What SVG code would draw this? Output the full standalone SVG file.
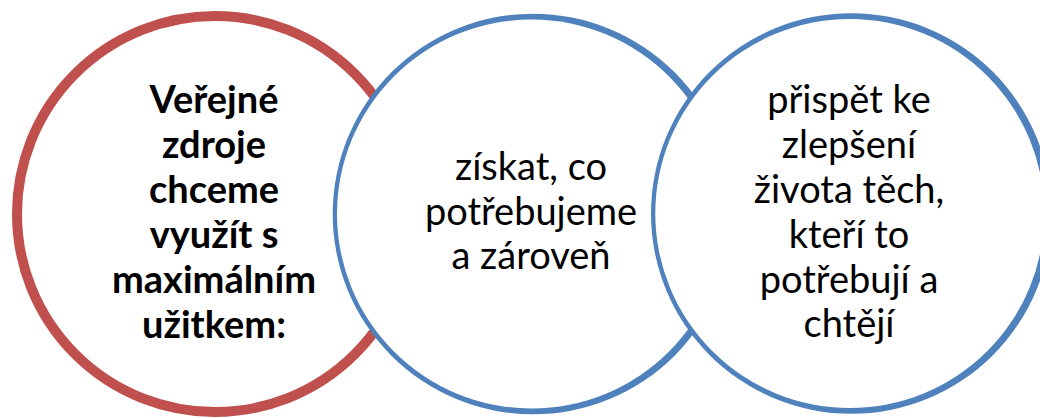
<svg xmlns="http://www.w3.org/2000/svg" width="1040" height="418" viewBox="0 0 1040 418">
<style>
.red{fill:#fff;stroke:#C0504D;stroke-width:10}
.ring{fill:#4F81BD}
.inner{fill:#fff}
text{font-family:Lato,"Open Sans","Liberation Sans",sans-serif;font-size:38px;fill:#000;text-anchor:middle}
.b{font-weight:bold}
</style>
<rect width="1040" height="418" fill="#fff"/>
<g id="node-left">
<circle class="red" cx="215" cy="214" r="198"/>
<text class="b" x="214"><tspan x="214" y="113">Veřejné</tspan><tspan x="214" y="158">zdroje</tspan><tspan x="214" y="203">chceme</tspan><tspan x="214" y="248">využít s</tspan><tspan x="214" y="293">maximálním</tspan><tspan x="214" y="338">užitkem:</tspan></text>
</g>
<g id="node-middle">
<circle class="ring" cx="533" cy="214" r="200.3"/>
<circle class="inner" cx="531.5" cy="214" r="194.5"/>
<text x="531"><tspan x="531" y="180">získat, co</tspan><tspan x="531" y="225">potřebujeme</tspan><tspan x="531" y="269">a zároveň</tspan></text>
</g>
<g id="node-right">
<circle class="ring" cx="851.3" cy="213.5" r="200.3"/>
<circle class="inner" cx="849.8" cy="213.5" r="194.5"/>
<text x="849"><tspan x="849" y="113">přispět ke</tspan><tspan x="849" y="158">zlepšení</tspan><tspan x="849" y="203">života těch,</tspan><tspan x="849" y="248">kteří to</tspan><tspan x="849" y="293">potřebují a</tspan><tspan x="849" y="337">chtějí</tspan></text>
</g>
<g id="connectors"></g>
</svg>
